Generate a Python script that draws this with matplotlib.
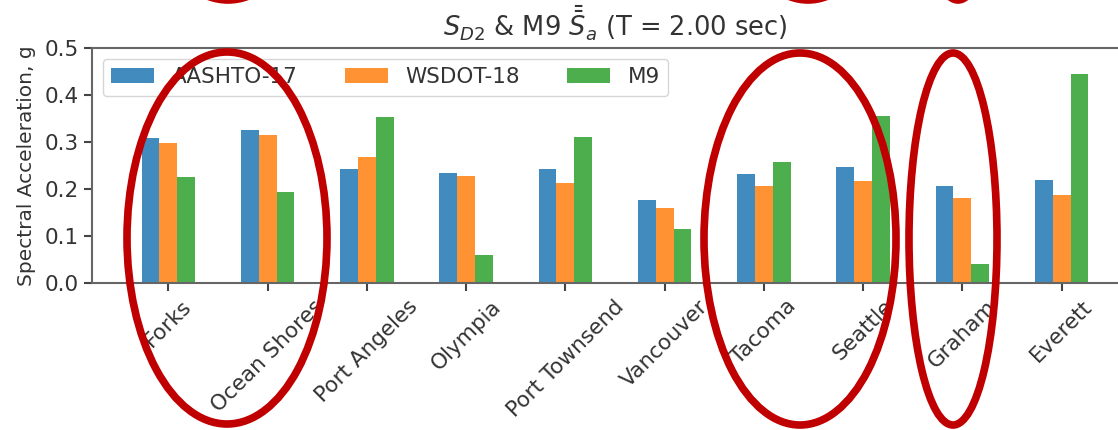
import numpy as np
import matplotlib
matplotlib.use('Agg')
import matplotlib.pyplot as plt
from matplotlib.patches import Ellipse

# ===================== DATA =====================
cities = ['Forks', 'Ocean Shores', 'Port Angeles', 'Olympia', 'Port Townsend',
          'Vancouver', 'Tacoma', 'Seattle', 'Graham', 'Everett']
aashto_17 = [0.308, 0.326, 0.242, 0.235, 0.242, 0.176, 0.232, 0.247, 0.207, 0.219]
wsdot_18 = [0.297, 0.315, 0.269, 0.228, 0.213, 0.159, 0.206, 0.218, 0.181, 0.188]
m9 = [0.226, 0.193, 0.354, 0.060, 0.310, 0.114, 0.258, 0.355, 0.041, 0.445]
series_names = ['AASHTO-17', 'WSDOT-18', 'M9']
y_ticks = [0.0, 0.1, 0.2, 0.3, 0.4, 0.5]

# ===================== STYLE =====================
W, H = 1118, 430
text_col = '#333333'
plt.rcParams['font.family'] = 'DejaVu Sans'
plt.rcParams['font.size'] = 15.5
plt.rcParams['text.color'] = text_col
plt.rcParams['axes.labelcolor'] = text_col
plt.rcParams['xtick.color'] = text_col
plt.rcParams['ytick.color'] = text_col

fig = plt.figure(figsize=(W / 100, H / 100), dpi=100)
ax = fig.add_axes([92 / W, 1 - 283 / H, (1138 - 92) / W, (283 - 48) / H])

# ---------- Bars ----------
x = np.arange(len(cities))
w = 0.18
colors = ['#1f77b4', '#ff7f0e', '#2ca02c']
for i, (vals, name) in enumerate(zip([aashto_17, wsdot_18, m9], series_names)):
    ax.bar(x + (i - 1) * w, vals, w, color=colors[i], alpha=0.85, label=name)

ax.set_xlim(-0.77, 9.77)
ax.set_ylim(0, 0.5)
ax.set_yticks(y_ticks)
ax.set_yticklabels([f'{v:.1f}' for v in y_ticks])
ax.set_xticks(x)
ax.set_xticklabels(cities, rotation=45, ha='center')
ax.set_ylabel('Spectral Acceleration, g', fontsize=14.5, labelpad=6)
ax.set_title(r'$S_{D2}$ & M9 $\bar{\bar{S}}_a$ (T = 2.00 sec)', fontsize=18.5, pad=8)

for s in ax.spines.values():
    s.set_color('#666666')
    s.set_linewidth(1.5)
ax.tick_params(length=6, width=1.5, color='#444444')

ax.legend(loc='upper left', ncol=3, fontsize=15.5, columnspacing=2.2)

# ---------- Red ellipses (annotation) ----------
red = '#c00000'
ellipses = [(227, 238, 200, 372), (800, 239, 192, 372), (953, 239, 88, 372),
            (228, -186, 200, 372), (808, -186, 192, 372), (958, -186, 88, 372)]
for cx, cy, ew, eh in ellipses:
    fig.add_artist(Ellipse((cx / W, 1 - cy / H), ew / W, eh / H,
                           transform=fig.transFigure, fill=False,
                           edgecolor=red, linewidth=5.5, clip_on=False))

fig.savefig('out.png', dpi=100)
plt.close(fig)
